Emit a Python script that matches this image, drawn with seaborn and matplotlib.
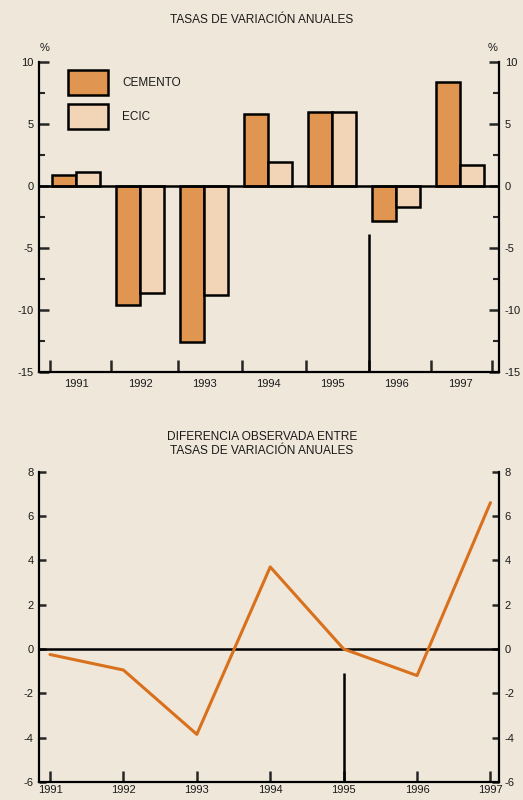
import numpy as np
import pandas as pd
import matplotlib
matplotlib.use("Agg")
import matplotlib.pyplot as plt
import seaborn as sns

# datos
years = [1991, 1992, 1993, 1994, 1995, 1996, 1997]
cemento = [0.9, -9.6, -12.6, 5.8, 6.0, -2.8, 8.4]
ecic = [1.1, -8.6, -8.8, 1.9, 6.0, -1.7, 1.7]
diferencia = [-0.25, -0.95, -3.85, 3.7, 0.0, -1.2, 6.6]
series = ['CEMENTO', 'ECIC']

bg = '#EFE7DA'
colors = {'CEMENTO': '#E09650', 'ECIC': '#F2D4B6'}
line_color = '#D9701C'
ink = '#1a1a1a'

sns.set_style("ticks", {'axes.facecolor': bg, 'figure.facecolor': bg})
plt.rcParams['font.family'] = ['Liberation Sans', 'DejaVu Sans']
plt.rcParams['axes.edgecolor'] = 'black'
plt.rcParams['axes.linewidth'] = 1.6
plt.rcParams['axes.unicode_minus'] = False

df = pd.DataFrame({
    'year': [str(y) for y in years] * 2,
    'valor': cemento + ecic,
    'serie': ['CEMENTO'] * len(years) + ['ECIC'] * len(years),
})

fig = plt.figure(figsize=(5.23, 8), dpi=100)
fig.patch.set_facecolor(bg)

# ---------------- top chart ----------------
ax1 = fig.add_axes([0.0746, 0.535, 0.880, 0.3875])
sns.barplot(data=df, x='year', y='valor', hue='serie', palette=colors,
            hue_order=series, edgecolor='black', linewidth=1.8, width=0.75,
            saturation=1, ax=ax1)
ax1.axhline(0, color='black', lw=1.8, zorder=1)
ax1.vlines(4.58, -15, -3.9, color='black', lw=1.8)

ax1.set_xlim(-0.578, 6.61)
ax1.set_ylim(-15, 10)
ax1.set_yticks([-15, -10, -5, 0, 5, 10])
ax1.set_yticks([-12.5, -7.5, -2.5, 2.5, 7.5], minor=True)
ax1.set_xticks(range(7))
ax1.set_xticks([-0.41, 0.55, 1.59, 2.59, 3.59, 4.58, 5.55, 6.5], minor=True)
ax1.set_xlabel('')
ax1.set_ylabel('')
for s in ['left', 'right', 'bottom']:
    ax1.spines[s].set_visible(True)
    ax1.spines[s].set_linewidth(1.6)
ax1.spines['top'].set_visible(False)
ax1.tick_params(axis='y', which='major', direction='in', length=7, width=1.8,
                left=True, right=True, labelleft=True, labelright=True,
                labelsize=8, labelcolor=ink, pad=4)
ax1.tick_params(axis='y', which='minor', direction='in', length=4, width=1.5,
                left=True, right=True)
ax1.tick_params(axis='x', which='major', length=0, labelsize=8,
                labelcolor=ink, pad=5)
ax1.tick_params(axis='x', which='minor', direction='in', length=9, width=1.8)

handles, labels = ax1.get_legend_handles_labels()
leg = ax1.legend(handles, labels, loc='upper left',
                 bbox_to_anchor=(0.063, 0.975), frameon=False, fontsize=8.5,
                 handlelength=3.4, handleheight=2.9, labelspacing=0.75,
                 handletextpad=1.2, borderpad=0, borderaxespad=0)
for p, s in zip(leg.get_patches(), series):
    p.set_facecolor(colors[s])
    p.set_edgecolor('black')
    p.set_linewidth(1.8)
for t in leg.get_texts():
    t.set_color(ink)

ax1.text(0.011, 1.045, '%', transform=ax1.transAxes, ha='center',
         va='center', fontsize=8, color=ink)
ax1.text(0.985, 1.045, '%', transform=ax1.transAxes, ha='center',
         va='center', fontsize=8, color=ink)
fig.text(0.501, 0.975, 'TASAS DE VARIACIÓN ANUALES', ha='center',
         va='center', fontsize=8.6, color=ink)

# ---------------- bottom chart ----------------
ax2 = fig.add_axes([0.0746, 0.0225, 0.880, 0.388])
sns.lineplot(x=years, y=diferencia, color=line_color, lw=2.2, ax=ax2)
ax2.axhline(0, color='black', lw=1.8, zorder=1)
ax2.vlines(1995, -6, -1.1, color='black', lw=1.8)

ax2.set_xlim(1990.85, 1997.12)
ax2.set_ylim(-6, 8)
ax2.set_yticks(np.arange(-6, 9, 2))
ax2.set_xticks(years)
ax2.set_xticklabels([str(y) for y in years])
for s in ['left', 'right', 'bottom']:
    ax2.spines[s].set_visible(True)
    ax2.spines[s].set_linewidth(1.6)
ax2.spines['top'].set_visible(False)
ax2.tick_params(axis='y', direction='in', length=5, width=1.8,
                left=True, right=True, labelleft=True, labelright=True,
                labelsize=8, labelcolor=ink, pad=4)
ax2.tick_params(axis='x', direction='in', length=8, width=1.8,
                labelsize=8, labelcolor=ink, pad=2)

fig.text(0.501, 0.445, 'DIFERENCIA OBSERVADA ENTRE\nTASAS DE VARIACIÓN ANUALES',
         ha='center', va='center', fontsize=8.6, color=ink, linespacing=1.3)

fig.savefig('out.png', dpi=100, facecolor=bg)
